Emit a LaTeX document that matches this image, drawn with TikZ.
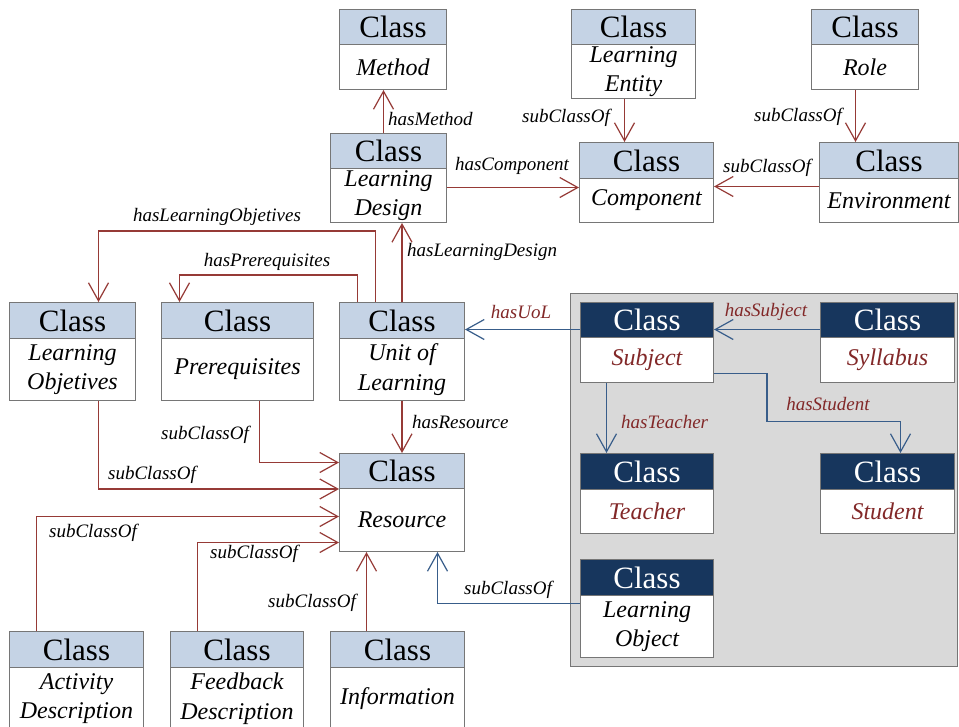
\documentclass[tikz,border=0pt]{standalone}
\usepackage{fontspec}
\setmainfont{Liberation Serif}
\usetikzlibrary{arrows.meta}
\definecolor{hdrlight}{RGB}{197,211,229}
\definecolor{hdrdark}{RGB}{23,54,93}
\definecolor{boxline}{RGB}{118,118,118}
\definecolor{redline}{RGB}{150,58,54}
\definecolor{blueline}{RGB}{56,93,138}
\definecolor{redtext}{RGB}{130,40,40}
\definecolor{panel}{RGB}{217,217,217}

% \umlbox{name}{head style}{body style}{x1}{top}{x2}{header bottom}{bottom}{body text}
\newcommand\umlbox[9]{%
  \node[#2, minimum width={#6-#4}, minimum height={#7-#5}] (#1-h) at (#4,#5) {Class};
  \node[#3, minimum width={#6-#4}, minimum height={#8-#7}] (#1) at (#4,#7) {#9};
}

\begin{document}
\begin{tikzpicture}[x=1pt,y=-1pt,
  boxbase/.style={draw=boxline, line width=1pt, inner sep=0pt, anchor=north west, align=center},
  lighthead/.style={boxbase, fill=hdrlight, font=\fontsize{31}{34}\selectfont},
  darkhead/.style={boxbase, fill=hdrdark, text=white, font=\fontsize{31}{34}\selectfont},
  plainbody/.style={boxbase, fill=white, font=\fontsize{24}{29.5}\selectfont\itshape},
  redbody/.style={plainbody, text=redtext},
  link/.style={line width=1.2pt, -{Straight Barb[length=18pt,width=20pt]}},
  redlink/.style={link, draw=redline},
  bluelink/.style={link, draw=blueline},
  lbl/.style={inner sep=0pt, font=\fontsize{19}{22}\selectfont\itshape},
  redlbl/.style={lbl, text=redtext},
]
\clip (0,0) rectangle (959,726);
\fill[white] (0,0) rectangle (959,726);

% grey panel holding the course classes
\filldraw[fill=panel, draw=boxline, line width=1pt] (570,293) rectangle (957.5,666);

% classes
\umlbox{Method}{lighthead}{plainbody}{339}{9}{446}{44}{89}{Method}
\umlbox{LE}{lighthead}{plainbody}{571}{9}{695}{44}{98}{Learning\\Entity}
\umlbox{Role}{lighthead}{plainbody}{811}{9}{918}{44}{89}{Role}
\umlbox{LD}{lighthead}{plainbody}{330}{133}{446}{168}{222}{Learning\\Design}
\umlbox{Component}{lighthead}{plainbody}{579}{142}{713}{178}{222}{Component}
\umlbox{Env}{lighthead}{plainbody}{819}{142}{958}{178}{222}{Environment}
\umlbox{LO}{lighthead}{plainbody}{9}{302}{135}{338}{400}{Learning\\Objetives}
\umlbox{Prereq}{lighthead}{plainbody}{161}{302}{313}{338}{400}{Prerequisites}
\umlbox{UoL}{lighthead}{plainbody}{339}{302}{464}{338}{400}{Unit of\\Learning}
\umlbox{Resource}{lighthead}{plainbody}{339}{453}{464}{488}{551}{Resource}
\umlbox{Activity}{lighthead}{plainbody}{9}{631}{143}{667}{729}{Activity\\Description}
\umlbox{Feedback}{lighthead}{plainbody}{170}{631}{303}{667}{729}{Feedback\\Description}
\umlbox{Info}{lighthead}{plainbody}{330}{631}{464}{667}{729}{Information}
\umlbox{Subject}{darkhead}{redbody}{580}{302}{713}{337}{382}{Subject}
\umlbox{Syllabus}{darkhead}{redbody}{820}{302}{954}{337}{382}{Syllabus}
\umlbox{Teacher}{darkhead}{redbody}{580}{453}{713}{489}{533}{Teacher}
\umlbox{Student}{darkhead}{redbody}{820}{453}{954}{489}{533}{Student}
\umlbox{LObj}{darkhead}{plainbody}{580}{559}{713}{595}{657}{Learning\\Object}

% relations of the learning design part
\draw[redlink] ([xshift=-5pt]LD-h.north) -- ([xshift=-5pt]LD-h.north |- Method.south);
\draw[redlink] ([yshift=8pt]LD.east) -- ([yshift=8pt]LD.east -| Component.west);
\draw[redlink] ([xshift=-9pt]LE.south) -- ([xshift=-9pt]LE.south |- Component-h.north);
\draw[redlink] ([xshift=-9.5pt]Role.south) -- ([xshift=-9.5pt]Role.south |- Env-h.north);
\draw[redlink] ([yshift=14pt]Env.west) -- ([yshift=14pt]Env.west -| Component.east);
\draw[redlink] ([xshift=-26.5pt]UoL-h.north) -- ++(0,-71) -| ([xshift=26pt]LO-h.north);
\draw[redlink] ([xshift=-44.5pt]UoL-h.north) -- ++(0,-27) -| ([xshift=-58pt]Prereq-h.north);
\draw[redlink] (UoL-h.north) -- (UoL-h.north |- LD.south);
\draw[redlink] (UoL.south) -- (Resource-h.north);
\draw[redlink] ([xshift=26pt]LO.south) |- (Resource-h.south west);
\draw[redlink] ([xshift=22pt]Prereq.south) |- ([yshift=8.5pt]Resource-h.west);
\draw[redlink] ([xshift=-40pt]Activity-h.north) |- ([yshift=3.5pt]Resource.west);
\draw[redlink] ([xshift=-39.5pt]Feedback-h.north) |- ([yshift=-22.5pt]Resource.west);
\draw[redlink] ([xshift=-31pt]Info-h.north) -- ([xshift=-31pt]Info-h.north |- Resource.south);

% relations of the course part
\draw[bluelink] ([yshift=23pt]LObj.west) -| ([xshift=35.5pt]Resource.south);
\draw[bluelink] ([yshift=-9.5pt]Subject-h.west) -- ([yshift=-9.5pt]Subject-h.west -| UoL-h.east);
\draw[bluelink] ([yshift=-9.5pt]Syllabus-h.west) -- ([yshift=-9.5pt]Syllabus-h.west -| Subject-h.east);
\draw[bluelink] ([xshift=-40.5pt]Subject.south) -- ([xshift=-40.5pt]Subject.south |- Teacher-h.north);
\draw[bluelink] ([yshift=-13.5pt]Subject.east) -- ++(53,0) -- ++(0,48) -| ([xshift=13pt]Student-h.north);

% relation names
\node[lbl, anchor=west] (l-method) at (388,119) {hasMethod};
\node[lbl] (l-comp) at (512,166) {hasComponent};
\node[lbl, anchor=east] (l-le) at (610,118) {subClassOf};
\node[lbl, anchor=east] (l-role) at (842,117) {subClassOf};
\node[lbl] (l-env) at (767,168) {subClassOf};
\node[lbl] (l-lo) at (217,217) {hasLearningObjetives};
\node[lbl] (l-pre) at (267,262) {hasPrerequisites};
\node[lbl, anchor=west] (l-ld) at (407,252) {hasLearningDesign};
\node[lbl, anchor=west] (l-res) at (412,422) {hasResource};
\node[lbl] (l-s1) at (205,435) {subClassOf};
\node[lbl] (l-s2) at (152,475) {subClassOf};
\node[lbl] (l-s3) at (93,533) {subClassOf};
\node[lbl] (l-s4) at (254,554) {subClassOf};
\node[lbl] (l-s5) at (312,603) {subClassOf};
\node[lbl, anchor=east] (l-s6) at (552,590) {subClassOf};
\node[redlbl] (l-uol) at (521,312) {hasUoL};
\node[redlbl] (l-subj) at (766,312) {hasSubject};
\node[redlbl, anchor=west] (l-teach) at (621,422) {hasTeacher};
\node[redlbl] (l-stud) at (828,404) {hasStudent};
\end{tikzpicture}
\end{document}
